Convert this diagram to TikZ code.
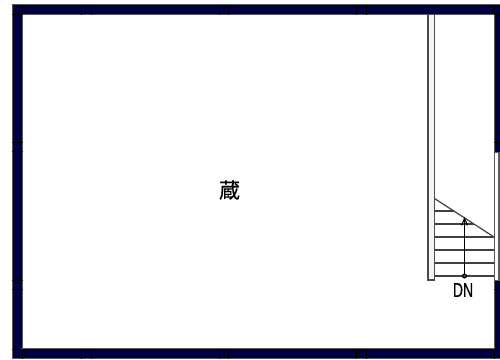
\documentclass[tikz,border=0pt]{standalone}
\usepackage{fontspec}
\newfontfamily\cjkfont[FakeBold=0.35]{Noto Sans CJK JP}
\setmainfont[FakeBold=0.4]{Liberation Sans}
\usetikzlibrary{arrows.meta}
\definecolor{wallnavy}{HTML}{000040}
\definecolor{walledge}{HTML}{5A5A5A}
\tikzset{
  wallbody/.style={fill=wallnavy,draw=walledge,line width=1pt},
  tick/.style={draw=black,line width=1pt},
  stairline/.style={draw=black!75,line width=1.2pt},
  railing/.style={draw=black!70,fill=black!4,line width=1.3pt},
  roomlabel/.style={inner sep=0pt,font=\cjkfont\fontsize{21}{21}\selectfont},
  dnlabel/.style={inner sep=0pt,xscale=.7,font=\fontsize{20}{20}\selectfont},
}
\begin{document}
\begin{tikzpicture}[x=1pt,y=-1pt]
\useasboundingbox (0,0) rectangle (500,359);
\fill[white] (0,0) rectangle (500,359);
% walls
\path[wallbody] (12.5,4.8) rectangle (22,358);
\path[wallbody] (12.5,4.8) rectangle (500,14);
\path[wallbody] (12.5,348.8) rectangle (500,358);
\path[wallbody] (494.5,4.8) rectangle (501,152);
\path[wallbody] (494.5,280) rectangle (501,358);
\fill[wallnavy] (13,5.4) rectangle (21.4,357.5);
\fill[wallnavy] (13,5.4) rectangle (500,13.4);
\fill[wallnavy] (13,349.4) rectangle (500,357.5);
\fill[wallnavy] (495,5.4) rectangle (500,151.5);
\fill[wallnavy] (495,280.5) rectangle (500,357.5);
% window in right wall
\draw[walledge,fill=white,line width=1pt] (494.5,152) rectangle (501,280);
\fill[walledge] (498,152) rectangle (500,280);
% column ticks
\foreach \x in {81.5,91,219,228,356.5,366}{
  \draw[tick] (\x,4.5) -- (\x,14.5);
  \draw[tick] (\x,348.5) -- (\x,358.5);
}
\foreach \y in {142,151,280,289}{
  \draw[tick] (12,\y) -- (22.5,\y);
}
\foreach \y in {142,289}{
  \draw[tick] (494,\y) -- (500,\y);
}
\draw[tick] (12,14) -- (22.5,14);
\draw[tick] (22,4.5) -- (22,14.5);
\draw[tick] (12,349) -- (22.5,349);
\draw[tick] (22,348.5) -- (22,358.5);
\draw[tick] (494,14) -- (500,14);
\draw[tick] (494.5,4.5) -- (494.5,14.5);
\draw[tick] (494,349) -- (500,349);
\draw[tick] (494.5,348.5) -- (494.5,358.5);
% stair
\draw[railing] (428,14.5) rectangle (434.5,280);
\foreach \y/\xe in {211/453.7,224/473.7,237/494,250/494,263/494,276/494}{
  \draw[stairline] (434.5,\y) -- (\xe,\y);
}
\draw[stairline] (434.5,198.5) -- (494,237);
\coordinate (arrowfoot) at (464.5,276);
\coordinate (arrowhead) at (464.5,217);
\draw[black,line width=1.1pt,-{Straight Barb[length=7pt,width=6pt]}] (arrowfoot) -- (arrowhead);
\draw[black,fill=black!70,line width=1pt] (arrowfoot) circle (2pt);
% labels
\node[roomlabel] (room) at (229.5,190) {蔵};
\node[dnlabel] (dn) at (463,290) {DN};
\end{tikzpicture}
\end{document}
